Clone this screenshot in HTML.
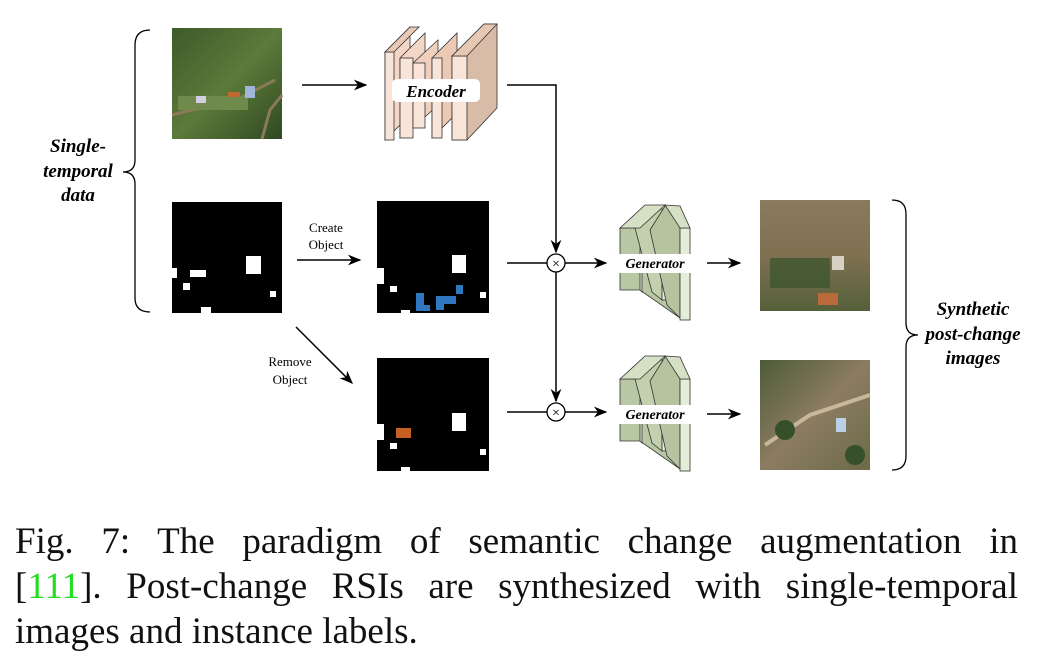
<!DOCTYPE html>
<html><head><meta charset="utf-8"><style>
html,body{margin:0;padding:0;background:#fff;width:1038px;height:667px;overflow:hidden}
svg text{font-family:"Liberation Serif",serif}
.cap{position:absolute;left:15px;width:1003px;font-family:"Liberation Serif",serif;font-size:37px;line-height:45px;text-align:justify;text-align-last:justify;color:#111;white-space:nowrap}
</style></head><body>
<svg width="1038" height="500" style="position:absolute;left:0;top:0">
<defs>
<marker id="ah" viewBox="0 0 10 10" refX="9" refY="5" markerWidth="9" markerHeight="9" orient="auto"><path d="M0,1 L10,5 L0,9 L3,5z" fill="#000"/></marker>
<linearGradient id="grass" x1="0" y1="0" x2="1" y2="1"><stop offset="0" stop-color="#3d5a2a"/><stop offset="0.5" stop-color="#5c7a3a"/><stop offset="1" stop-color="#2f4a22"/></linearGradient>
<linearGradient id="dry" x1="0" y1="0" x2="0" y2="1"><stop offset="0" stop-color="#8a7a5e"/><stop offset="0.5" stop-color="#7f7050"/><stop offset="1" stop-color="#55603a"/></linearGradient>
<linearGradient id="dry2" x1="0" y1="0" x2="1" y2="1"><stop offset="0" stop-color="#4c5a38"/><stop offset="0.5" stop-color="#8c7c62"/><stop offset="1" stop-color="#6b6a48"/></linearGradient>
</defs>
<path d="M150,30 Q135,30 135,45 L135,160 Q135,172 123,172 Q135,172 135,184 L135,298 Q135,312 150,312" fill="none" stroke="#000" stroke-width="1.3"/>
<g font-weight="bold" font-style="italic" font-size="19" text-anchor="middle">
<text x="78" y="152">Single-</text><text x="78" y="177">temporal</text><text x="78" y="201">data</text></g>
<g>
<rect x="172" y="28" width="110" height="111" fill="url(#grass)"/>
<path d="M172,115 L240,98 L275,80" stroke="#8a7a5a" stroke-width="3" fill="none"/>
<path d="M262,139 L270,110 L282,95" stroke="#8a7a5a" stroke-width="3" fill="none"/>
<rect x="178" y="96" width="70" height="14" fill="#6f8a4a"/>
<rect x="196" y="96" width="10" height="7" fill="#d0d0e0"/><rect x="228" y="92" width="12" height="5" fill="#c06a30"/><rect x="245" y="86" width="10" height="12" fill="#9fb6d8"/>
</g>
<line x1="302" y1="85" x2="366" y2="85" stroke="#000" stroke-width="1.5" marker-end="url(#ah)"/>
<g stroke="#333" stroke-width="0.8">
<polygon points="385,52 410,27 410,115 385,140" fill="#f3d6c6"/><rect x="385" y="52" width="9" height="88" fill="#f8e4d8"/><polygon points="394,52 419,27 410,27 385,52" fill="#eac8b6"/>
<polygon points="400,58 425,33 425,113 400,138" fill="#f3d6c6"/><rect x="400" y="58" width="13" height="80" fill="#f8e4d8"/>
<polygon points="413,63 438,40 438,105 413,128" fill="#f0d0bd"/><rect x="413" y="63" width="12" height="65" fill="#f8e4d8"/>
<polygon points="432,58 457,33 457,113 432,138" fill="#ecc9b5"/><rect x="432" y="58" width="10" height="80" fill="#f8e4d8"/>
<polygon points="452,56 484,24 497,24 497,108 467,140 452,140" fill="#d9bca8"/><rect x="452" y="56" width="15" height="84" fill="#f8e4d8"/><polygon points="452,56 484,24 497,24 467,56" fill="#e5c7b2"/>
<rect x="392" y="79" width="88" height="23" rx="5" fill="#fff" stroke="none"/>
</g>
<text x="436" y="97" font-size="17" font-weight="bold" font-style="italic" text-anchor="middle">Encoder</text>
<polyline points="507,85 556,85 556,252" fill="none" stroke="#000" stroke-width="1.5" marker-end="url(#ah)"/>
<g>
<rect x="172" y="202" width="110" height="111" fill="#000"/>
<rect x="246" y="256" width="15" height="18" fill="#fff"/><rect x="190" y="270" width="16" height="7" fill="#fff"/><rect x="172" y="268" width="5" height="10" fill="#fff"/><rect x="183" y="283" width="7" height="7" fill="#fff"/><rect x="201" y="307" width="10" height="6" fill="#fff"/><rect x="270" y="291" width="6" height="6" fill="#fff"/>
</g>
<text x="326" y="232" font-size="13" text-anchor="middle">Create</text>
<text x="326" y="249" font-size="13" text-anchor="middle">Object</text>
<line x1="297" y1="260" x2="360" y2="260" stroke="#000" stroke-width="1.5" marker-end="url(#ah)"/>
<g>
<rect x="377" y="201" width="112" height="112" fill="#000"/>
<rect x="452" y="255" width="14" height="18" fill="#fff"/><rect x="377" y="268" width="7" height="16" fill="#fff"/><rect x="390" y="286" width="7" height="6" fill="#fff"/><rect x="480" y="292" width="6" height="6" fill="#fff"/><rect x="401" y="310" width="9" height="3" fill="#fff"/>
<path d="M416,293 H424 V305 H430 V311 H416 Z" fill="#2f78c0"/><path d="M436,296 H456 V304 H444 V310 H436 Z" fill="#2f78c0"/><rect x="456" y="285" width="7" height="9" fill="#2f78c0"/>
</g>
<line x1="507" y1="263" x2="547" y2="263" stroke="#000" stroke-width="1.5"/>
<circle cx="556" cy="263" r="9" fill="#fff" stroke="#000" stroke-width="1.3"/>
<text x="556" y="268" font-size="14" text-anchor="middle">×</text>
<line x1="565" y1="263" x2="606" y2="263" stroke="#000" stroke-width="1.5" marker-end="url(#ah)"/>
<line x1="556" y1="272" x2="556" y2="401" stroke="#000" stroke-width="1.5" marker-end="url(#ah)"/>
<g id="gen1" stroke="#333" stroke-width="0.8">
<polygon points="620,228 640,228 680,300 680,318 640,290 620,290" fill="#b9c8a4"/>
<polygon points="640,228 642,228 642,292 640,290" fill="#e4edd8"/>
<polygon points="635,228 650,206 662,206 662,300 652,292" fill="#c3d0ae"/>
<rect x="662" y="215" width="9" height="85" fill="#e4edd8"/>
<polygon points="650,230 665,206 680,206 680,318 667,305" fill="#b5c49f"/>
<rect x="680" y="228" width="10" height="92" fill="#e4edd8"/>
<polygon points="620,228 645,205 665,205 640,228" fill="#d5e0c4"/>
<polygon points="665,205 680,206 690,228 680,228" fill="#d5e0c4"/>
<rect x="616" y="254" width="78" height="19" fill="#fff" stroke="none"/>
</g>
<text x="655" y="268" font-size="14" font-weight="bold" font-style="italic" text-anchor="middle">Generator</text>
<use href="#gen1" y="151"/>
<text x="655" y="419" font-size="14" font-weight="bold" font-style="italic" text-anchor="middle">Generator</text>
<line x1="707" y1="263" x2="740" y2="263" stroke="#000" stroke-width="1.5" marker-end="url(#ah)"/>
<g>
<rect x="760" y="200" width="110" height="111" fill="url(#dry)"/>
<rect x="770" y="258" width="60" height="30" fill="#3f5630" opacity="0.8"/><rect x="818" y="293" width="20" height="12" fill="#b86a3a"/><rect x="832" y="256" width="12" height="14" fill="#d8d0c0"/>
</g>
<text x="290" y="366" font-size="13" text-anchor="middle">Remove</text>
<text x="290" y="384" font-size="13" text-anchor="middle">Object</text>
<line x1="296" y1="327" x2="352" y2="383" stroke="#000" stroke-width="1.5" marker-end="url(#ah)"/>
<g>
<rect x="377" y="358" width="112" height="113" fill="#000"/>
<rect x="452" y="413" width="14" height="18" fill="#fff"/><rect x="377" y="424" width="7" height="16" fill="#fff"/><rect x="390" y="443" width="7" height="6" fill="#fff"/><rect x="480" y="449" width="6" height="6" fill="#fff"/><rect x="401" y="467" width="9" height="4" fill="#fff"/>
<rect x="396" y="428" width="15" height="10" fill="#c5601e"/>
</g>
<line x1="507" y1="412" x2="547" y2="412" stroke="#000" stroke-width="1.5"/>
<circle cx="556" cy="412" r="9" fill="#fff" stroke="#000" stroke-width="1.3"/>
<text x="556" y="417" font-size="14" text-anchor="middle">×</text>
<line x1="565" y1="412" x2="606" y2="412" stroke="#000" stroke-width="1.5" marker-end="url(#ah)"/>
<line x1="707" y1="414" x2="740" y2="414" stroke="#000" stroke-width="1.5" marker-end="url(#ah)"/>
<g>
<rect x="760" y="360" width="110" height="110" fill="url(#dry2)"/>
<path d="M765,445 L810,415 L870,395" stroke="#c8b89a" stroke-width="4" fill="none"/>
<rect x="836" y="418" width="10" height="14" fill="#b8d0e8"/><circle cx="785" cy="430" r="10" fill="#35502a"/><circle cx="855" cy="455" r="10" fill="#35502a"/>
</g>
<path d="M892,200 Q906,200 906,214 L906,323 Q906,335 918,335 Q906,335 906,347 L906,456 Q906,470 892,470" fill="none" stroke="#000" stroke-width="1.3"/>
<g font-weight="bold" font-style="italic" font-size="19" text-anchor="middle">
<text x="973" y="315">Synthetic</text><text x="973" y="340">post-change</text><text x="973" y="364">images</text></g>
</svg>
<div class="cap" style="top:519px">Fig. 7: The paradigm of semantic change augmentation in</div>
<div class="cap" style="top:564px">[<span style="color:#22dd22">111</span>]. Post-change RSIs are synthesized with single-temporal</div>
<div class="cap" style="top:609px;text-align-last:left">images and instance labels.</div>
</body></html>
